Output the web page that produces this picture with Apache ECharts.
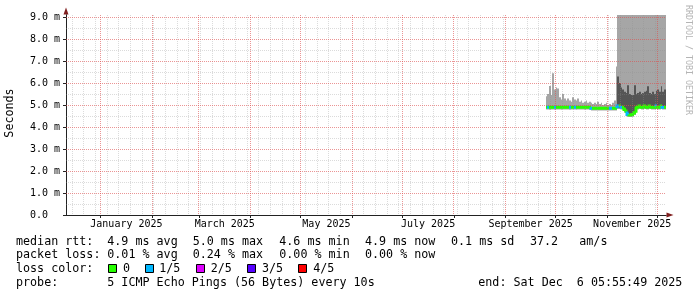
<!DOCTYPE html>
<html><head><meta charset="utf-8">
<script src="https://cdn.jsdelivr.net/npm/echarts@6/dist/echarts.min.js"></script>
<style>html,body{margin:0;padding:0;background:#fff}#c{width:697px;height:297px}</style>
</head><body><div id="c"></div>
<script>
// ---- time frame ----
const END_TIME = '2025-12-06T05:55:49Z';
const SPAN_DAYS = 360;
const FIRST_DAY = '2025-09-25T00:00:00Z';   // first day with measurements (daily buckets)
const monthNames = ['January','February','March','April','May','June','July','August','September','October','November','December'];
const xLabelMonths = ['2025-01','2025-03','2025-05','2025-07','2025-09','2025-11'];
const yTickValues = [0,1,2,3,4,5,6,7,8,9];
const Y_MAX = 9.09;

// ---- data (ms), one value per day from FIRST_DAY ----
const median = [
 4.9,4.9,4.9,4.9,4.9,4.9,4.9,4.9,4.9,4.9,
 4.9,4.9,4.9,4.9,4.9,4.9,4.9,4.9,4.9,4.9,
 4.9,4.9,4.9,4.9,4.9,4.9,4.9,4.85,4.85,4.85,
 4.85,4.85,4.85,4.85,4.85,4.85,4.85,4.85,4.85,4.85,
 4.85,4.85,4.85,4.95,4.95,4.9,4.9,4.8,4.7,4.57,
 4.55,4.55,4.57,4.65,4.85,4.9,4.95,4.9,4.9,4.95,
 4.9,4.9,4.95,4.9,4.9,4.9,4.95,4.9,4.9,4.95,
 4.9,4.9
];
const lossPings = [
 0,1,0,0,0,1,0,0,0,0,
 0,0,0,0,1,0,0,1,0,0,
 0,0,0,0,0,0,0,1,0,0,
 0,0,0,0,0,0,0,0,1,1,
 0,0,0,1,0,1,0,0,0,1,
 0,0,0,0,0,0,0,0,0,0,
 0,0,0,0,0,0,1,0,0,0,
 1,0
];
const smokeLo = [
 4.8,4.8,4.78,4.8,4.8,4.78,4.8,4.8,4.8,4.78,
 4.8,4.8,4.8,4.8,4.78,4.8,4.8,4.8,4.78,4.8,
 4.8,4.8,4.8,4.78,4.8,4.8,4.78,4.75,4.75,4.75,
 4.75,4.75,4.75,4.75,4.75,4.75,4.75,4.75,4.75,4.75,
 4.75,4.75,4.75,4.82,4.82,4.8,4.78,4.68,4.58,4.46,
 4.45,4.45,4.47,4.55,4.75,4.8,4.82,4.8,4.8,4.82,
 4.8,4.8,4.82,4.8,4.8,4.8,4.82,4.8,4.8,4.82,
 4.8,4.8
];
const smokeHi = [
 5.4,5.5,5.86,5.45,6.44,5.7,5.8,5.75,5.35,5.25,
 5.5,5.3,5.2,5.3,5.2,5.15,5.35,5.25,5.2,5.3,
 5.15,5.2,5.1,5.15,5.2,5.1,5.15,5.1,5.05,5.1,
 5.05,5.15,5.05,5.1,5.0,5.05,5.1,5.0,5.05,5.0,
 5.1,5.2,6.75,9.09,9.09,9.09,9.09,9.09,9.09,9.09,
 9.09,9.09,9.09,9.09,9.09,9.09,9.09,9.09,9.09,9.09,
 9.09,9.09,9.09,9.09,9.09,9.09,9.09,9.09,9.09,9.09,
 9.09,9.09
];
const darkLo = [
 null,null,null,null,null,null,null,null,null,null,
 null,null,null,null,null,null,null,null,null,null,
 null,null,null,null,null,null,null,null,null,null,
 null,null,null,null,null,null,null,null,null,null,
 null,null,null,4.88,4.88,4.85,4.84,4.74,4.63,4.5,
 4.5,4.5,4.52,4.6,4.8,4.85,4.88,4.85,4.85,4.88,
 4.85,4.85,4.88,4.85,4.85,4.85,4.88,4.85,4.85,4.88,
 4.85,4.85
];
const darkHi = [
 null,null,null,null,null,null,null,null,null,null,
 null,null,null,null,null,null,null,null,null,null,
 null,null,null,null,null,null,null,null,null,null,
 null,null,null,null,null,null,null,null,null,null,
 null,null,null,6.3,6.0,5.8,5.7,5.6,5.55,5.9,
 5.5,5.45,5.45,5.9,5.5,5.55,5.6,5.5,5.55,5.6,
 5.65,5.85,5.55,5.5,5.6,5.5,5.65,5.7,5.6,5.85,
 5.6,5.7
];
const lossColors = ['#26ff00','#00b8ff','#dd00ff','#5500ff','#ff0000'];
const lossLabels = ['0','1/5','2/5','3/5','4/5'];
const rttStats = ['4.9 ms avg','5.0 ms max','4.6 ms min','4.9 ms now','0.1 ms sd','37.2','am/s'];
const lossStats = ['0.01 % avg','0.24 % max','0.00 % min','0.00 % now'];
const probeText = '5 ICMP Echo Pings (56 Bytes) every 10s';
const endText = 'end: Sat Dec  6 05:55:49 2025';

// ---- derived ----
const DAY = 86400000;
const endMs = Date.parse(END_TIME);
const startMs = endMs - SPAN_DAYS * DAY;
const firstMs = Date.parse(FIRST_DAY);
const dayStarts = median.map((_, k) => firstMs + k * DAY);

const monthStarts = [];
{
  const s = new Date(startMs);
  let y = s.getUTCFullYear(), m = s.getUTCMonth();
  while (true) {
    const t = Date.UTC(y, m, 1);
    if (t > endMs) break;
    if (t > startMs) monthStarts.push(t);
    m++; if (m > 11) { m = 0; y++; }
  }
}
const sundays = [];
{
  const s = new Date(startMs);
  let t = Date.UTC(s.getUTCFullYear(), s.getUTCMonth(), s.getUTCDate() + 1);
  while (new Date(t).getUTCDay() !== 0) t += DAY;
  for (; t < endMs; t += 7 * DAY) if (monthStarts.indexOf(t) < 0) sundays.push(t);
}
const labelValues = xLabelMonths.map(s => {
  const [y, m] = s.split('-').map(Number);
  return (Date.UTC(y, m - 1, 1) + Date.UTC(y, m, 1)) / 2;
});
const vLines = sundays.map(t => [t, 0, 0]).concat(monthStarts.map(t => [t, 0, 1]));
const hLines = [];
for (let i = 1; i <= 18; i++) hLines.push([startMs, i * 0.5, i % 2 === 0 ? 1 : 0]);

const GRAY = 'rgba(143,143,143,0.32)';
const RED = 'rgba(222,79,79,0.6)';
const MONO = '"DejaVu Sans Mono", monospace';

function band(color) {
  return function (params, api) {
    const t = api.value(0), lo = api.value(1), hi = api.value(2);
    const a = api.coord([t, hi]), b = api.coord([t + DAY, lo]);
    const x0 = Math.round(a[0]), x1 = Math.round(b[0]);
    return { type: 'rect', shape: { x: x0, y: a[1], width: x1 - x0, height: b[1] - a[1] }, style: { fill: color } };
  };
}
function gridLine(vertical) {
  return function (params, api) {
    const cs = params.coordSys;
    const major = api.value(2) === 1;
    const st = { stroke: major ? RED : GRAY, lineWidth: 1, lineDash: [1, 1] };
    if (vertical) {
      const x = Math.floor(api.coord([api.value(0), 0])[0]) + 0.5;
      return { type: 'line', shape: { x1: x, y1: cs.y, x2: x, y2: cs.y + cs.height }, style: st };
    }
    const y = Math.round(api.coord([startMs, api.value(1)])[1]) + 0.5;
    return { type: 'line', shape: { x1: cs.x, y1: y, x2: cs.x + cs.width, y2: y }, style: st };
  };
}
const smokeData = dayStarts.map((t, k) => [t, smokeLo[k], smokeHi[k]]);
const darkData = dayStarts.map((t, k) => [t, darkLo[k], darkHi[k]]).filter(d => d[1] != null && d[2] != null);
const medData = dayStarts.map((t, k) => [t, median[k], lossPings[k], k > 0 ? median[k - 1] : median[k]]);

const chart = echarts.init(document.getElementById('c'), null, { renderer: 'canvas' });

const graphics = [];
function txt(x, y, s, size, extra) {
  graphics.push(Object.assign({ type: 'text', x: x, y: y,
    style: { text: s, fill: '#000', fontFamily: MONO, fontSize: size || 11.7, verticalAlign: 'middle', align: 'left' } }, extra || {}));
}
const rttX = [107.3, 192.7, 279.3, 365, 451, 530, 579.3];
txt(16, 241.7, 'median rtt:');
rttStats.forEach((s, i) => txt(rttX[i], 241.7, s));
txt(16, 255, 'packet loss:');
lossStats.forEach((s, i) => txt(rttX[i], 255, s));
txt(16, 269.3, 'loss color:');
const boxX = [108, 145, 196, 247, 298];
const lblX = [123, 159.3, 210.7, 262, 313.3];
lossColors.forEach((c, i) => {
  graphics.push({ type: 'rect', shape: { x: boxX[i] + 0.5, y: 264.5, width: 8, height: 8 }, style: { fill: c, stroke: '#000', lineWidth: 1 } });
  txt(lblX[i], 269.3, lossLabels[i]);
});
txt(16, 282.7, 'probe:');
txt(107.3, 282.7, probeText);
txt(478.3, 282.7, endText);
graphics.push({ type: 'text', x: 10, y: 113, rotation: Math.PI / 2,
  style: { text: 'Seconds', fill: '#000', fontFamily: MONO, fontSize: 11.7, align: 'center', verticalAlign: 'middle' } });
graphics.push({ type: 'text', x: 688, y: 5, rotation: -Math.PI / 2,
  style: { text: 'RRDTOOL / TOBI OETIKER', fill: '#b4b4b4', fontFamily: MONO, fontSize: 8.3, align: 'left', verticalAlign: 'middle' } });

const option = {
  animation: false,
  backgroundColor: '#ffffff',
  textStyle: { fontFamily: MONO },
  grid: { left: 66, top: 15, width: 600, height: 200, containLabel: false },
  xAxis: [
    { type: 'value', min: startMs, max: endMs, position: 'bottom', z: 5,
      axisLine: { show: true, onZero: false, lineStyle: { color: '#222', width: 1 } },
      axisTick: { show: true, customValues: monthStarts, length: 3, lineStyle: { color: '#222' } },
      axisLabel: { show: true, customValues: labelValues, margin: 4, color: '#000', fontFamily: MONO, fontSize: 10,
        formatter: v => { const d = new Date(v); return monthNames[d.getUTCMonth()] + ' ' + d.getUTCFullYear(); } },
      splitLine: { show: false } },
    { type: 'value', min: startMs, max: endMs, position: 'bottom', z: 4,
      axisLine: { show: true, onZero: false, symbol: ['none', 'triangle'], symbolSize: [5, 7], symbolOffset: [0, 4], lineStyle: { color: '#801f1f', width: 1 } },
      axisTick: { show: false }, axisLabel: { show: false }, splitLine: { show: false } }
  ],
  yAxis: [
    { type: 'value', min: 0, max: Y_MAX, position: 'left', z: 5,
      axisLine: { show: true, onZero: false, lineStyle: { color: '#222', width: 1 } },
      axisTick: { show: true, customValues: yTickValues, length: 3, lineStyle: { color: '#222' } },
      axisLabel: { show: true, customValues: yTickValues, align: 'left', margin: 36, color: '#000', fontFamily: MONO, fontSize: 10,
        formatter: v => v === 0 ? '0.0' : v.toFixed(1) + ' m' },
      splitLine: { show: false } },
    { type: 'value', min: 0, max: Y_MAX, position: 'left', z: 4,
      axisLine: { show: true, onZero: false, symbol: ['none', 'triangle'], symbolSize: [5, 7], symbolOffset: [0, 4], lineStyle: { color: '#801f1f', width: 1 } },
      axisTick: { show: false }, axisLabel: { show: false }, splitLine: { show: false } }
  ],
  series: [
    { type: 'custom', name: 'smoke', z: 2, silent: true, data: smokeData, encode: { x: 0, y: [1, 2] }, renderItem: band('#a6a6a6') },
    { type: 'custom', name: 'smokeDark', z: 3, silent: true, data: darkData, encode: { x: 0, y: [1, 2] }, renderItem: band('#555555') },
    { type: 'custom', name: 'median', z: 4, silent: true, data: medData, encode: { x: 0, y: 1 },
      renderItem: function (params, api) {
        const t = api.value(0), m = api.value(1), loss = api.value(2), pm = api.value(3);
        const a = api.coord([t, m]), b = api.coord([t + DAY, m]), p = api.coord([t, pm]);
        const x0 = Math.round(a[0]), x1 = Math.round(b[0]);
        return { type: 'polyline', shape: { points: [[x0, p[1]], [x0, a[1]], [x1, a[1]]] },
          style: { stroke: lossColors[loss], lineWidth: 3, fill: null } };
      } },
    { type: 'custom', name: 'vgrid', z: 10, silent: true, data: vLines, encode: { x: 0, y: 1 }, renderItem: gridLine(true) },
    { type: 'custom', name: 'hgrid', z: 10, silent: true, data: hLines, encode: { x: 0, y: 1 }, renderItem: gridLine(false) }
  ],
  graphic: graphics
};
chart.setOption(option);
</script>
</body></html>
